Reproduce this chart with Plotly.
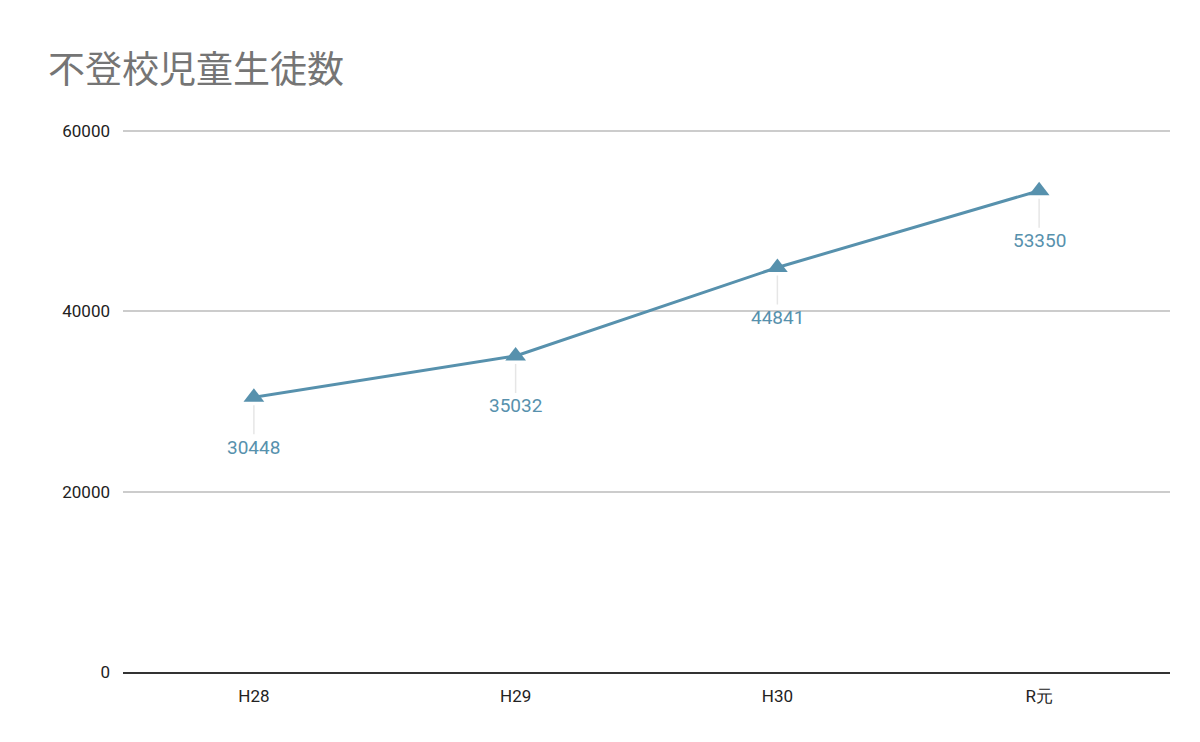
import plotly.graph_objects as go

categories = ["H28", "H29", "H30", "R元"]
values = [30448, 35032, 44841, 53350]
y_ticks = [0, 20000, 40000, 60000]

color = "#5791ad"
fig = go.Figure()
fig.add_trace(go.Scatter(
    x=categories, y=values, mode="lines+markers",
    line=dict(color=color, width=3),
    marker=dict(symbol="triangle-up", size=18, color=color),
    hoverinfo="skip"))

for c, v in zip(categories, values):
    fig.add_annotation(x=c, y=v, text=str(v), showarrow=True, arrowhead=0,
                       arrowwidth=1.5, arrowcolor="#e6e6e6", ax=0, ay=50,
                       standoff=8, startstandoff=0,
                       font=dict(family="Roboto", size=19, color=color))

fig.update_layout(
    width=1200, height=742,
    margin=dict(l=115, r=38, t=120, b=78),
    plot_bgcolor="white", paper_bgcolor="white",
    showlegend=False,
    title=dict(text="不登校児童生徒数", x=40/1200, xanchor="left", y=1-62/742, yanchor="middle",
               font=dict(family="Noto Sans CJK JP", size=37, color="#757575")),
    font=dict(family="Roboto", size=17, color="#222"),
)
fig.update_xaxes(showgrid=False, showline=True, linecolor="#333", linewidth=1.5,
                 range=[-0.5, 3.5], automargin=False,
                 ticks="", ticklabelstandoff=8, tickfont=dict(size=17, color="#222"))
fig.update_yaxes(range=[0, 60300], tickvals=y_ticks, tickformat="d", showgrid=True,
                 gridcolor="#cccccc", automargin=False,
                 gridwidth=1.5, zeroline=False, ticks="", ticklabelstandoff=12,
                 tickfont=dict(size=17, color="#222"))
fig.write_html("out.html")
